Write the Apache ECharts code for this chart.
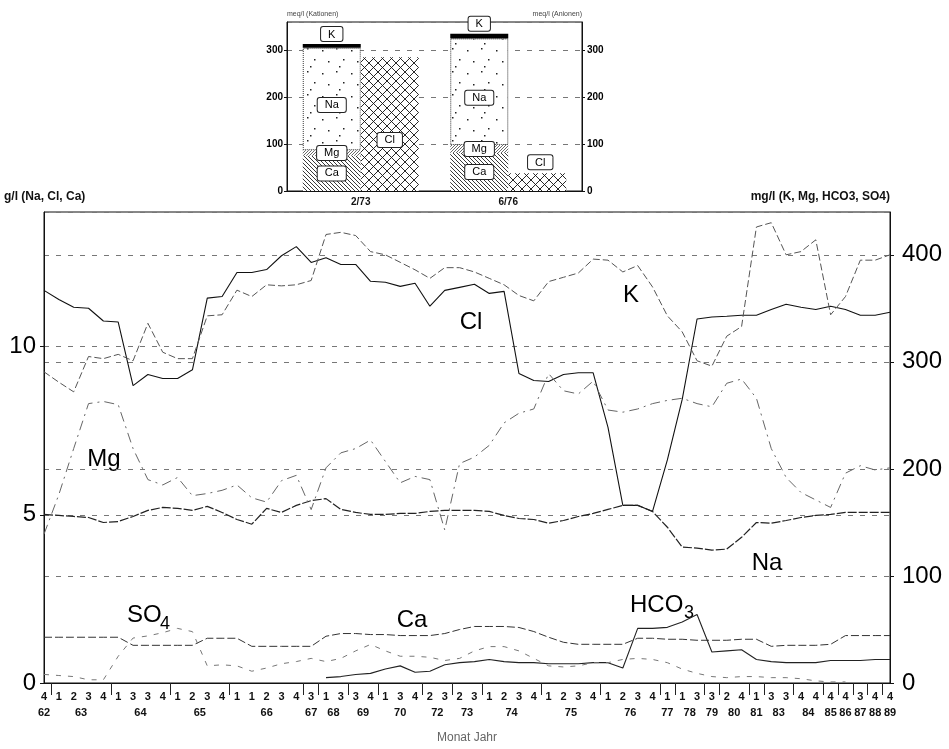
<!DOCTYPE html>
<html><head><meta charset="utf-8">
<script src="https://cdn.jsdelivr.net/npm/echarts@6/dist/echarts.min.js"></script>
<style>html,body{margin:0;padding:0;background:#fff}#c{width:949px;height:749px}</style>
</head><body><div id="c"></div>
<script>
// ---- x axis: quarters grouped by year ----
const yearLabels = ['62','63','64','65','66','67','68','69','70','72','73','74','75','76','77','78','79','80','81','83','84','85','86','87','88','89'];
const quartersByYear = [[4],[1,2,3,4],[1,3,3,4],[1,2,3,4],[1,1,2,3,4],[3],[1,3],[3,4],[1,3,4],[2,3],[2,3],[1,2,3,4],[1,2,3,4],[1,2,3,4],[1],[1,3],[3],[2,4],[1],[3,3],[4,4],[4],[4],[3],[4],[4]];

// ---- g/l (left axis) ----
const Cl = [11.67,11.4,11.17,11.14,10.76,10.73,8.84,9.17,9.05,9.05,9.31,11.44,11.49,12.2,12.2,12.29,12.7,12.97,12.5,12.64,12.44,12.44,11.94,11.91,11.79,11.88,11.2,11.67,11.76,11.85,11.58,11.64,9.2,8.99,8.96,9.17,9.22,9.22,7.6,5.28,5.28,5.1,6.63,8.43,10.82,10.88,10.9,10.93,10.93,11.1,11.26,11.17,11.1,11.2,11.1,10.93,10.93,11.02];
const Na = [5.01,4.98,4.95,4.92,4.77,4.8,4.95,5.13,5.22,5.19,5.13,5.25,5.07,4.86,4.72,5.19,5.07,5.28,5.42,5.48,5.16,5.07,5.01,5.01,5.04,5.04,5.1,5.13,5.13,5.13,5.1,4.98,4.89,4.86,4.75,4.83,4.95,5.04,5.16,5.28,5.28,5.1,4.63,4.04,4.01,3.95,3.98,4.33,4.77,4.75,4.83,4.92,4.98,5.01,5.07,5.07,5.07,5.07];
const Ca = [1.36,1.36,1.36,1.36,1.36,1.36,1.12,1.12,1.12,1.12,1.12,1.33,1.33,1.33,1.09,1.09,1.09,1.09,1.09,1.39,1.47,1.47,1.44,1.44,1.41,1.41,1.41,1.47,1.59,1.68,1.68,1.68,1.65,1.53,1.36,1.21,1.15,1.15,1.15,1.15,1.33,1.33,1.3,1.3,1.27,1.27,1.27,1.3,1.3,1.09,1.12,1.12,1.12,1.15,1.41,1.41,1.41,1.41];
// ---- mg/l (right axis) ----
const K = [290.7,281,272,305,303,307,301,336,309,303,303,343,344,367,361,372,371,372,376,419,421,418,403,400,393,386,378,388,388,384,378,372,362,357,375,379,383,396,395,384,390,370,343,328,301,296,324,333,426,430,400,403,414,344,361,395,395,400];
const Mg = [139,176,219,261,263,260,219,190,185,192,175,177,180,185,173,169,189,194,162,201,215,219,227,207,187,193,190,143,205,211,222,243,252,256,289,273,270,282,255,253,256,261,264,266,261,258,280,284,266,219,192,178,171,164,196,203,199,201];
const HCO3 = [null,null,null,null,null,null,null,null,null,null,null,null,null,null,null,null,null,null,null,5,6,8,9,13,16,10,11,17,19,20,22,20,19,19,18,18,18,19,19,14,51,51,52,57,64,29,30,31,22,20,19,19,19,21,21,21,22,22];
const SO4 = [8,7,6,3,3,25,42,44,47,51,48,16,17,16,11,14,18,20,23,20,23,30,36,30,25,25,24,21,23,30,34,34,30,23,16,15,16,19,19,22,23,22,19,13,9,6,5,6,6,5,5,4,2,1,1,null,null,null];

// ---- inset: meq/l ----
const insetCats = ['2/73','6/76'];
const insetCa = [75, 81];
const insetMg = [12, 17];
const insetNa = [218, 227];
const insetK = [8, 10];
const insetCl = [285, 38];

// derived axis helpers
const quarters = [];
const yearCenters = [];
const yearSeparators = [];
let idx = 0;
quartersByYear.forEach((q, i) => {
  yearCenters.push(idx + (q.length - 1) / 2);
  q.forEach(v => quarters.push(String(v)));
  idx += q.length;
  if (i < quartersByYear.length - 1) yearSeparators.push(idx - 0.5);
});
const yearByCenter = {};
yearCenters.forEach((c, i) => { yearByCenter[c.toFixed(2)] = yearLabels[i]; });

// ---- patterns ----
function hatch(size, dirs, lw, color) {
  const c = document.createElement('canvas'); c.width = c.height = size;
  const g = c.getContext('2d');
  g.fillStyle = '#fff'; g.fillRect(0, 0, size, size);
  g.strokeStyle = color; g.lineWidth = lw;
  dirs.forEach(d => {
    g.beginPath();
    for (let k = -1; k <= 1; k++) {
      if (d === 'b') { g.moveTo(k * size, 0); g.lineTo(k * size + size, size); }
      else { g.moveTo(k * size + size, 0); g.lineTo(k * size, size); }
    }
    g.stroke();
  });
  return c;
}
function dots() {
  const c = document.createElement('canvas'); c.width = 29; c.height = 23;
  const g = c.getContext('2d');
  g.fillStyle = '#fff'; g.fillRect(0, 0, 29, 23);
  g.fillStyle = '#222';
  [[3,4],[17,2],[24,13],[9,15],[20,20]].forEach(p => g.fillRect(p[0], p[1], 1.5, 1.5));
  return c;
}
const patCa = { image: hatch(4, ['b'], 0.9, '#222'), repeat: 'repeat' };
const patMg = { image: hatch(3, ['f'], 0.8, '#444'), repeat: 'repeat' };
const patCl = { image: hatch(9, ['b', 'f'], 0.9, '#111'), repeat: 'repeat' };
const patNa = { image: dots(), repeat: 'repeat' };

const FF = 'Liberation Sans, Arial, sans-serif';
const boxLabel = (txt, extra) => Object.assign({
  show: true, formatter: txt, position: 'inside', color: '#000', fontFamily: FF, fontSize: 11,
  backgroundColor: '#fff', borderColor: '#222', borderWidth: 1, borderRadius: 2, padding: [2, 7, 1, 7]
}, extra || {});

const split = { show: true, lineStyle: { color: '#777', type: [5, 7], width: 1 } };

const chart = echarts.init(document.getElementById('c'), null, { renderer: 'canvas' });
chart.setOption({
  animation: false,
  backgroundColor: '#fff',
  grid: [
    { left: 44, right: 59, top: 212, bottom: 62, show: true, borderColor: '#111', borderWidth: 1, backgroundColor: 'transparent' },
    { left: 287, right: 367, top: 22, bottom: 558, show: true, borderColor: '#111', borderWidth: 1, backgroundColor: 'transparent' }
  ],
  xAxis: [
    { type: 'category', gridIndex: 0, data: quarters, boundaryGap: false,
      axisLine: { lineStyle: { color: '#111' } }, axisTick: { show: false },
      axisLabel: { interval: 0, margin: 8, color: '#111', fontWeight: 'bold', fontSize: 11, fontFamily: FF } },
    { type: 'value', gridIndex: 0, min: 0, max: quarters.length - 1, position: 'bottom', offset: 23,
      splitLine: { show: false }, axisLine: { show: false },
      axisTick: { show: true, customValues: yearSeparators, length: 12, inside: false, lineStyle: { color: '#222' } },
      axisLabel: { customValues: yearCenters, margin: 1, color: '#111', fontWeight: 'bold', fontSize: 11, fontFamily: FF,
        formatter: v => yearByCenter[Number(v).toFixed(2)] || '' },
      name: 'Monat Jahr', nameLocation: 'middle', nameGap: 26,
      nameTextStyle: { color: '#666', fontSize: 12, fontFamily: FF } },
    { type: 'category', gridIndex: 1, data: insetCats,
      axisLine: { lineStyle: { color: '#111' } }, axisTick: { show: false },
      axisLabel: { margin: 6, color: '#111', fontWeight: 'bold', fontSize: 10, fontFamily: FF } }
  ],
  yAxis: [
    { type: 'value', gridIndex: 0, min: 0, max: 14, interval: 5, position: 'left',
      axisLine: { show: true, lineStyle: { color: '#111' } }, axisTick: { show: true, length: 4, lineStyle: { color: '#111' } },
      axisLabel: { showMaxLabel: false, margin: 8, color: '#000', fontSize: 24, fontFamily: FF }, splitLine: split },
    { type: 'value', gridIndex: 0, min: 0, max: 440, interval: 100, position: 'right',
      axisLine: { show: true, lineStyle: { color: '#111' } }, axisTick: { show: true, length: 4, lineStyle: { color: '#111' } },
      axisLabel: { showMaxLabel: false, margin: 12, color: '#000', fontSize: 24, fontFamily: FF }, splitLine: split },
    { type: 'value', gridIndex: 1, min: 0, max: 360, interval: 100, position: 'left',
      name: 'meq/l (Kationen)', nameLocation: 'end', nameGap: 4,
      nameTextStyle: { align: 'left', color: '#444', fontSize: 7, fontFamily: FF },
      axisLine: { show: true, lineStyle: { color: '#111' } }, axisTick: { show: true, length: 3 },
      axisLabel: { showMaxLabel: false, margin: 4, color: '#000', fontWeight: 'bold', fontSize: 10, fontFamily: FF }, splitLine: split },
    { type: 'value', gridIndex: 1, min: 0, max: 360, interval: 100, position: 'right',
      name: 'meq/l (Anionen)', nameLocation: 'end', nameGap: 4,
      nameTextStyle: { align: 'right', color: '#444', fontSize: 7, fontFamily: FF },
      axisLine: { show: true, lineStyle: { color: '#111' } }, axisTick: { show: true, length: 3 },
      axisLabel: { showMaxLabel: false, margin: 5, color: '#000', fontWeight: 'bold', fontSize: 10, fontFamily: FF }, splitLine: { show: false } }
  ],
  series: [
    { name: 'Cl', type: 'line', xAxisIndex: 0, yAxisIndex: 0, data: Cl, symbol: 'none', lineStyle: { color: '#111', width: 1.1 } },
    { name: 'Na', type: 'line', xAxisIndex: 0, yAxisIndex: 0, data: Na, symbol: 'none', lineStyle: { color: '#222', width: 1.2, type: [9, 2] } },
    { name: 'Ca', type: 'line', xAxisIndex: 0, yAxisIndex: 0, data: Ca, symbol: 'none', lineStyle: { color: '#333', width: 1, type: [8, 3] } },
    { name: 'K', type: 'line', xAxisIndex: 0, yAxisIndex: 1, data: K, symbol: 'none', lineStyle: { color: '#555', width: 1, type: [7, 3] } },
    { name: 'Mg', type: 'line', xAxisIndex: 0, yAxisIndex: 1, data: Mg, symbol: 'none', lineStyle: { color: '#666', width: 1, type: [10, 5, 2, 5] } },
    { name: 'HCO3', type: 'line', xAxisIndex: 0, yAxisIndex: 1, data: HCO3, symbol: 'none', lineStyle: { color: '#222', width: 1.1 } },
    { name: 'SO4', type: 'line', xAxisIndex: 0, yAxisIndex: 1, data: SO4, symbol: 'none', lineStyle: { color: '#777', width: 1, type: [5, 7] } },

    { name: 'iCa', type: 'bar', xAxisIndex: 2, yAxisIndex: 2, stack: 'cat', barWidth: 58, barGap: '0%', data: insetCa,
      itemStyle: { color: patCa }, label: boxLabel('Ca') },
    { name: 'iMg', type: 'bar', xAxisIndex: 2, yAxisIndex: 2, stack: 'cat', barWidth: 58, barGap: '0%', data: insetMg,
      itemStyle: { color: patMg }, label: boxLabel('Mg') },
    { name: 'iNa', type: 'bar', xAxisIndex: 2, yAxisIndex: 2, stack: 'cat', barWidth: 58, barGap: '0%', data: insetNa,
      itemStyle: { color: patNa, borderColor: '#333', borderWidth: 1, borderType: 'dotted' }, label: boxLabel('Na', { offset: [0, 6] }) },
    { name: 'iK', type: 'bar', xAxisIndex: 2, yAxisIndex: 2, stack: 'cat', barWidth: 58, barGap: '0%', data: insetK,
      itemStyle: { color: '#000' }, label: boxLabel('K', { position: 'top', distance: 3 }) },
    { name: 'iCl', type: 'bar', xAxisIndex: 2, yAxisIndex: 2, stack: 'an', barWidth: 58, barGap: '0%',
      data: insetCl.map((v, i) => ({ value: v, label: i === 0 ? { position: 'inside', offset: [0, 16] } : { position: 'top', distance: 4, offset: [3, 0] } })),
      itemStyle: { color: patCl }, label: boxLabel('Cl') }
  ],
  graphic: [
    { type: 'text', x: 4, y: 197, style: { text: 'g/l (Na, Cl, Ca)', font: 'bold 12px ' + FF, fill: '#111', verticalAlign: 'middle', align: 'left' } },
    { type: 'text', x: 890, y: 197, style: { text: 'mg/l (K, Mg, HCO3, SO4)', font: 'bold 12px ' + FF, fill: '#111', verticalAlign: 'middle', align: 'right' } },
    { type: 'text', x: 471, y: 322, style: { text: 'Cl', font: '24px ' + FF, fill: '#000', align: 'center', verticalAlign: 'middle' } },
    { type: 'text', x: 631, y: 295, style: { text: 'K', font: '24px ' + FF, fill: '#000', align: 'center', verticalAlign: 'middle' } },
    { type: 'text', x: 104, y: 459, style: { text: 'Mg', font: '24px ' + FF, fill: '#000', align: 'center', verticalAlign: 'middle' } },
    { type: 'text', x: 767, y: 563, style: { text: 'Na', font: '24px ' + FF, fill: '#000', align: 'center', verticalAlign: 'middle' } },
    { type: 'text', x: 412, y: 620, style: { text: 'Ca', font: '24px ' + FF, fill: '#000', align: 'center', verticalAlign: 'middle' } },
    { type: 'text', x: 127, y: 615, style: { text: 'SO', font: '24px ' + FF, fill: '#000', align: 'left', verticalAlign: 'middle' } },
    { type: 'text', x: 160, y: 624, style: { text: '4', font: '18px ' + FF, fill: '#000', align: 'left', verticalAlign: 'middle' } },
    { type: 'text', x: 630, y: 605, style: { text: 'HCO', font: '24px ' + FF, fill: '#000', align: 'left', verticalAlign: 'middle' } },
    { type: 'text', x: 684, y: 613, style: { text: '3', font: '18px ' + FF, fill: '#000', align: 'left', verticalAlign: 'middle' } }
  ]
});
</script>
</body></html>
